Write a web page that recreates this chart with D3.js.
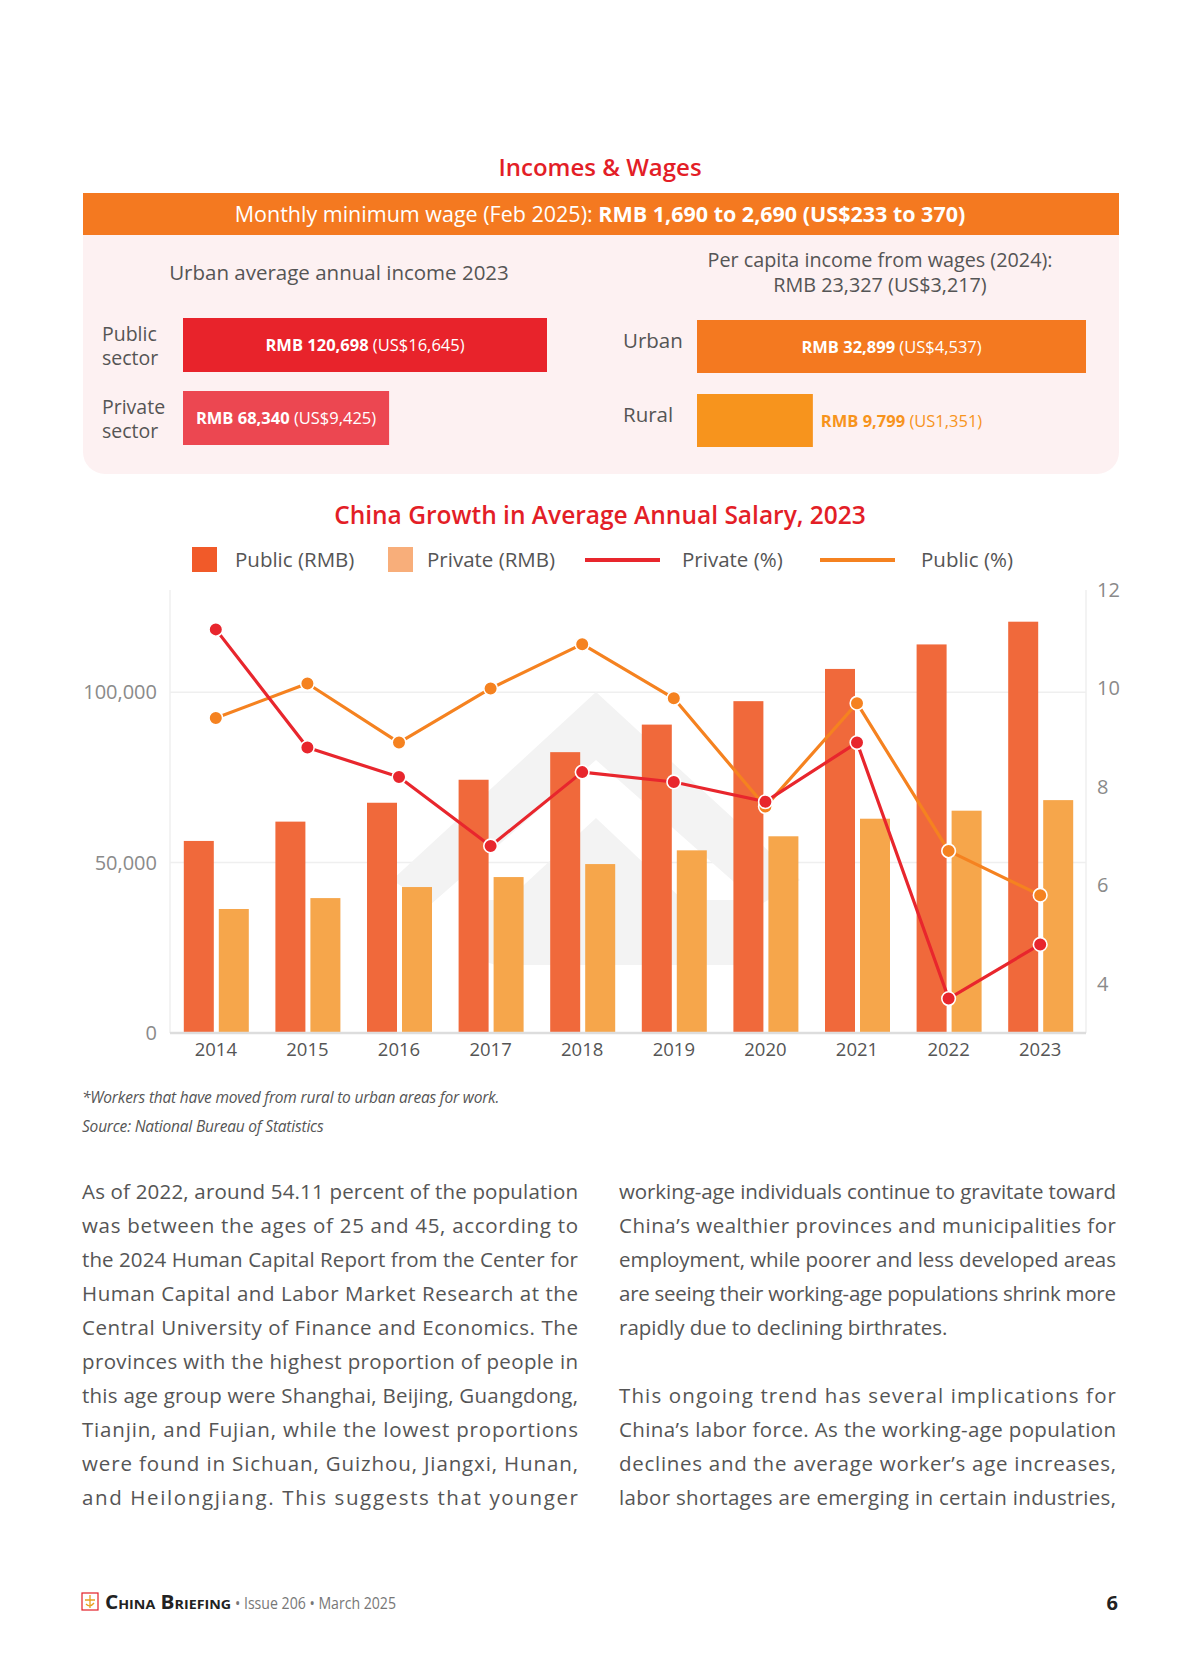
<!DOCTYPE html>
<html>
<head>
<meta charset="utf-8">
<script src="https://cdn.jsdelivr.net/npm/d3@7/dist/d3.min.js"></script>
<style>
  html, body { margin: 0; padding: 0; background: #ffffff; }
  svg { display: block; }
  text { font-family: "Open Sans", "Noto Sans", sans-serif; }
</style>
</head>
<body>
<svg id="page" width="1200" height="1670"></svg>
<script>
// ---------- DATA ----------
const years = ["2014","2015","2016","2017","2018","2019","2020","2021","2022","2023"];
const publicRMB  = [56360, 62029, 67569, 74318, 82413, 90501, 97379, 106837, 114029, 120698];
const privateRMB = [36390, 39589, 42833, 45761, 49575, 53604, 57727, 62884, 65237, 68340];
const privatePct = [11.2, 8.8, 8.2, 6.8, 8.3, 8.1, 7.7, 8.9, 3.7, 4.8];
const publicPct  = [9.4, 10.1, 8.9, 10.0, 10.9, 9.8, 7.6, 9.7, 6.7, 5.8];
const leftTicks  = [0, 50000, 100000];
const rightTicks = [4, 6, 8, 10, 12];

const sectorLabels = [["Public","sector"],["Private","sector"]];
const sectorIncome = [120698, 68340];
const sectorUSD    = ["16,645", "9,425"];
const areaLabels   = ["Urban", "Rural"];
const areaIncome   = [32899, 9799];
const areaUSD      = ["US$4,537", "US1,351"];

const bodyLeft = [
  "As of 2022, around 54.11 percent of the population",
  "was between the ages of 25 and 45, according to",
  "the 2024 Human Capital Report from the Center for",
  "Human Capital and Labor Market Research at the",
  "Central University of Finance and Economics. The",
  "provinces with the highest proportion of people in",
  "this age group were Shanghai, Beijing, Guangdong,",
  "Tianjin, and Fujian, while the lowest proportions",
  "were found in Sichuan, Guizhou, Jiangxi, Hunan,",
  "and Heilongjiang. This suggests that younger"
];
const bodyRight = [
  "working-age individuals continue to gravitate toward",
  "China\u2019s wealthier provinces and municipalities for",
  "employment, while poorer and less developed areas",
  "are seeing their working-age populations shrink more",
  "rapidly due to declining birthrates.",
  "",
  "This ongoing trend has several implications for",
  "China\u2019s labor force. As the working-age population",
  "declines and the average worker\u2019s age increases,",
  "labor shortages are emerging in certain industries,"
];
const bodyRightLast = [4]; // indices of paragraph-final lines (not justified)

// ---------- STYLE ----------
const RED = "#e31e27", ORANGE = "#f47920";
const C_PUB_BAR = "#f0693b", C_PRI_BAR = "#f6a64b";
const C_PRI_LINE = "#e8262d", C_PUB_LINE = "#f58220";
const GRAY_TXT = "#555555";

const svg = d3.select("#page");

// ---------- HEADER ----------
svg.append("text").attr("x", 600).attr("y", 176).attr("text-anchor", "middle")
  .attr("font-size", 24).attr("font-weight", 600).attr("fill", RED).text("Incomes & Wages");

svg.append("path")
  .attr("d", "M83,235 H1119 V452 A22,22 0 0 1 1097,474 H105 A22,22 0 0 1 83,452 Z")
  .attr("fill", "#fdf1f2");
svg.append("rect").attr("x", 83).attr("y", 193).attr("width", 1036).attr("height", 42).attr("fill", ORANGE);
const ban = svg.append("text").attr("x", 600).attr("y", 222).attr("text-anchor", "middle")
  .attr("font-size", 21.5).attr("fill", "#ffffff");
ban.append("tspan").text("Monthly minimum wage (Feb 2025): ");
ban.append("tspan").attr("font-weight", 700).text("RMB 1,690 to 2,690 (US$233 to 370)");

svg.append("text").attr("x", 339).attr("y", 280).attr("text-anchor", "middle")
  .attr("font-size", 20.5).attr("fill", GRAY_TXT).text("Urban average annual income 2023");
const pc = svg.append("text").attr("x", 880).attr("y", 267).attr("text-anchor", "middle")
  .attr("font-size", 19.8).attr("fill", GRAY_TXT);
pc.append("tspan").attr("x", 880).attr("y", 267).text("Per capita income from wages (2024):");
pc.append("tspan").attr("x", 880).attr("y", 292).text("RMB 23,327 (US$3,217)");

// sector bars
const xSector = d3.scaleLinear().domain([0, 120698]).range([0, 364]);
const sectorY = [318, 391];
const sectorFill = ["#e8232b", "#ec4751"];
sectorIncome.forEach((v, i) => {
  const w = xSector(v);
  svg.append("rect").attr("x", 183).attr("y", sectorY[i]).attr("width", w).attr("height", 54).attr("fill", sectorFill[i]);
  const t = svg.append("text").attr("x", 183 + w / 2).attr("y", sectorY[i] + 33).attr("text-anchor", "middle")
    .attr("font-size", 16.5).attr("fill", "#fff");
  t.append("tspan").attr("font-weight", 700).text("RMB " + d3.format(",")(v));
  t.append("tspan").text(" (US$" + sectorUSD[i] + ")");
  const lab = svg.append("text").attr("font-size", 19.5).attr("fill", GRAY_TXT);
  sectorLabels[i].forEach((s, k) => {
    lab.append("tspan").attr("x", 102).attr("y", sectorY[i] + 23 + k * 24).text(s);
  });
});

// area bars
const xArea = d3.scaleLinear().domain([0, 32899]).range([0, 389]);
const areaY = [320, 394];
const areaFill = ["#f47920", "#f7941d"];
areaIncome.forEach((v, i) => {
  const w = xArea(v);
  svg.append("rect").attr("x", 697).attr("y", areaY[i]).attr("width", w).attr("height", 53).attr("fill", areaFill[i]);
  const inside = i === 0;
  const t = svg.append("text")
    .attr("x", inside ? 697 + w / 2 : 697 + w + 8).attr("y", areaY[i] + 33)
    .attr("text-anchor", inside ? "middle" : "start")
    .attr("font-size", 16.5).attr("fill", inside ? "#fff" : "#f7941d");
  t.append("tspan").attr("font-weight", 700).text("RMB " + d3.format(",")(v));
  t.append("tspan").text(" (" + areaUSD[i] + ")");
  svg.append("text").attr("x", 623).attr("y", areaY[i] + 28)
    .attr("font-size", 20.5).attr("fill", GRAY_TXT).text(areaLabels[i]);
});

// ---------- CHART ----------
svg.append("text").attr("x", 600).attr("y", 524).attr("text-anchor", "middle")
  .attr("font-size", 24.5).attr("font-weight", 600).attr("fill", RED)
  .text("China Growth in Average Annual Salary, 2023");

// legend
const legend = [
  {type: "rect", color: "#f15a29", label: "Public (RMB)", x: 192, tx: 235},
  {type: "rect", color: "#f8ae7a", label: "Private (RMB)", x: 388, tx: 427},
  {type: "line", color: C_PRI_LINE, label: "Private (%)", x: 585, tx: 682},
  {type: "line", color: C_PUB_LINE, label: "Public (%)", x: 820, tx: 921}
];
legend.forEach(l => {
  if (l.type === "rect") {
    svg.append("rect").attr("x", l.x).attr("y", 547).attr("width", 25).attr("height", 25).attr("fill", l.color);
  } else {
    svg.append("line").attr("x1", l.x).attr("x2", l.x + 75).attr("y1", 560).attr("y2", 560)
      .attr("stroke", l.color).attr("stroke-width", 4);
  }
  svg.append("text").attr("x", l.tx).attr("y", 567).attr("font-size", 20.5).attr("fill", GRAY_TXT).text(l.label);
});

const X0 = 170, X1 = 1086, Y0 = 1033, Y1 = 590;
const x = d3.scaleBand().domain(years).range([X0, X1]).paddingInner(0).paddingOuter(0);
const yL = d3.scaleLinear().domain([0, 130000]).range([Y0, Y1]);
const yR = d3.scaleLinear().domain([3, 12]).range([Y0, Y1]);

// gridlines
const g = svg.append("g");
g.selectAll("line.grid").data(leftTicks.filter(d => d > 0)).join("line")
  .attr("x1", X0).attr("x2", X1).attr("y1", d => yL(d)).attr("y2", d => yL(d))
  .attr("stroke", "#efefef").attr("stroke-width", 1.5);
g.append("line").attr("x1", X0).attr("x2", X0).attr("y1", Y1).attr("y2", Y0).attr("stroke", "#efefef").attr("stroke-width", 1.5);
g.append("line").attr("x1", X1).attr("x2", X1).attr("y1", Y1).attr("y2", Y0).attr("stroke", "#efefef").attr("stroke-width", 1.5);

// watermark
const wm = svg.append("g").attr("fill", "#f3f3f3");
wm.append("path").attr("d", "M596,692 L800,880 L760,905 L596,760 L430,905 L392,880 Z");
wm.append("path").attr("d", "M596,818 L720,935 L470,935 Z");
wm.append("path").attr("d", "M470,900 H740 V965 H500 A30,30 0 0 1 470,935 Z");

// bars
const bw = 30;
svg.append("g").selectAll("rect").data(years).join("rect")
  .attr("x", d => x(d) + x.bandwidth() / 2 - bw - 2).attr("width", bw)
  .attr("y", (d, i) => yL(publicRMB[i])).attr("height", (d, i) => Y0 - yL(publicRMB[i]))
  .attr("fill", C_PUB_BAR);
svg.append("g").selectAll("rect").data(years).join("rect")
  .attr("x", d => x(d) + x.bandwidth() / 2 + 3).attr("width", bw)
  .attr("y", (d, i) => yL(privateRMB[i])).attr("height", (d, i) => Y0 - yL(privateRMB[i]))
  .attr("fill", C_PRI_BAR);

// baseline
svg.append("line").attr("x1", X0).attr("x2", X1).attr("y1", Y0).attr("y2", Y0)
  .attr("stroke", "#dddddd").attr("stroke-width", 2.5);

// axes
const axL = svg.append("g").attr("transform", `translate(${X0},0)`)
  .call(d3.axisLeft(yL).tickValues(leftTicks).tickFormat(d3.format(",")).tickSize(0).tickPadding(13));
const axR = svg.append("g").attr("transform", `translate(${X1},0)`)
  .call(d3.axisRight(yR).tickValues(rightTicks).tickSize(0).tickPadding(11));
const axB = svg.append("g").attr("transform", `translate(0,${Y0})`)
  .call(d3.axisBottom(x).tickSize(0).tickPadding(10));
[axL, axR, axB].forEach(a => {
  a.select(".domain").remove();
  a.selectAll("text").attr("font-family", "'Open Sans', sans-serif").attr("font-size", 20);
});
axB.selectAll("text").attr("font-size", 18.5).attr("fill", "#555");
axL.selectAll("text").attr("fill", "#8a8a8a");
axR.selectAll("text").attr("fill", "#8a8a8a");

// lines
const cx = d => x(d) + x.bandwidth() / 2;
const drawLine = (vals, color) => {
  const line = d3.line().x((d, i) => cx(years[i])).y(d => yR(d));
  svg.append("path").datum(vals).attr("d", line).attr("fill", "none")
    .attr("stroke", color).attr("stroke-width", 3.2).attr("stroke-linejoin", "round");
  svg.append("g").selectAll("circle").data(vals).join("circle")
    .attr("cx", (d, i) => cx(years[i])).attr("cy", d => yR(d)).attr("r", 6.8)
    .attr("fill", color).attr("stroke", "#fff").attr("stroke-width", 1.6);
};
drawLine(publicPct, C_PUB_LINE);
drawLine(privatePct, C_PRI_LINE);

// footnotes
svg.append("text").attr("x", 82).attr("y", 1103).attr("font-size", 15.5).attr("font-style", "italic")
  .attr("fill", GRAY_TXT).attr("letter-spacing", -0.2).text("*Workers that have moved from rural to urban areas for work.");
svg.append("text").attr("x", 82).attr("y", 1132).attr("font-size", 15.5).attr("font-style", "italic")
  .attr("fill", GRAY_TXT).attr("letter-spacing", -0.2).text("Source: National Bureau of Statistics");

// ---------- BODY TEXT ----------
const drawCol = (lines, x0, width, lastIdx) => {
  lines.forEach((s, i) => {
    if (!s) return;
    const t = svg.append("text").attr("x", x0).attr("y", 1199 + i * 34)
      .attr("font-size", 20.5).attr("fill", GRAY_TXT).text(s);
    if (!lastIdx.includes(i)) t.attr("textLength", width).attr("lengthAdjust", "spacing");
  });
};
drawCol(bodyLeft, 82, 496, []);
drawCol(bodyRight, 619, 497, bodyRightLast);

// ---------- FOOTER ----------
const logo = svg.append("g");
logo.append("rect").attr("x", 82).attr("y", 1593).attr("width", 16).attr("height", 17)
  .attr("fill", "none").attr("stroke", "#e31e27").attr("stroke-width", 1.2);
logo.append("path").attr("d", "M90,1595 V1608 M85,1600 H95 M86,1604 Q90,1608 94,1603")
  .attr("fill", "none").attr("stroke", "#e8a020").attr("stroke-width", 1.3);
svg.append("text").attr("x", 105).attr("y", 1609).attr("font-family", "'Liberation Serif', serif")
  .attr("font-weight", 700).attr("font-size", 19).attr("font-variant", "small-caps").attr("fill", "#222")
  .attr("textLength", 126).attr("lengthAdjust", "spacingAndGlyphs")
  .text("China Briefing");
svg.append("text").attr("x", 235).attr("y", 1609).attr("font-family", "'Liberation Sans Narrow', 'Liberation Sans', sans-serif")
  .attr("font-size", 16).attr("fill", "#777").attr("textLength", 161).attr("lengthAdjust", "spacingAndGlyphs")
  .text("\u2022 Issue 206 \u2022 March 2025");
svg.append("text").attr("x", 1118).attr("y", 1610).attr("text-anchor", "end").attr("font-weight", 700)
  .attr("font-size", 20).attr("fill", "#222").text("6");
</script>
</body>
</html>
